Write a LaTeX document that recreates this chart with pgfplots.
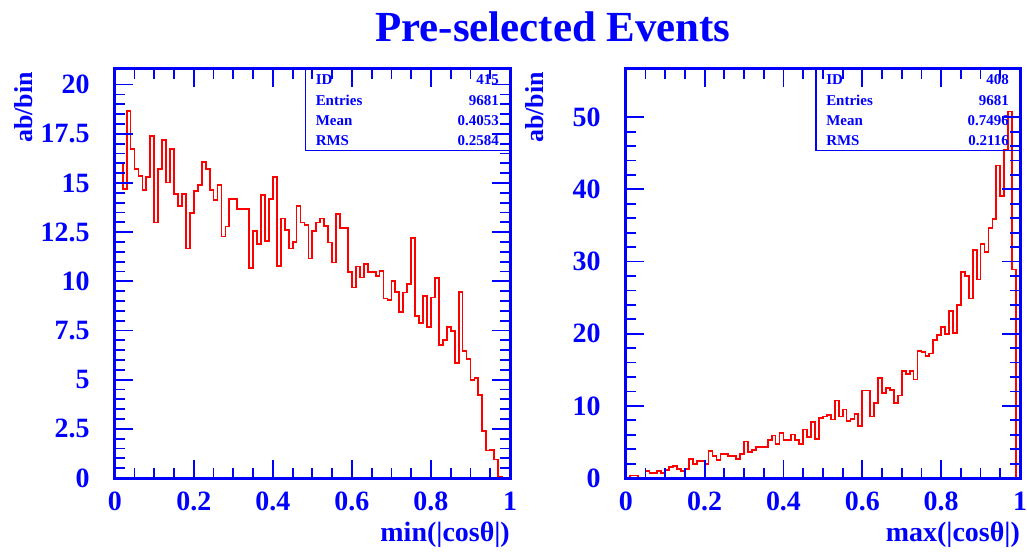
\documentclass[border=0pt]{standalone}
\usepackage{fontspec}
\setmainfont{Liberation Serif}
\usepackage{pgfplots}
\usepackage{pgfplotstable}
\pgfplotsset{compat=1.18}

\definecolor{rootblue}{RGB}{0,0,255}
\definecolor{rootred}{RGB}{255,0,0}

% min(|cos theta|): lower bin edge and content (ab/bin)
\pgfplotstableread{
x y
0.00 16.00
0.01 16.00
0.02 14.68
0.03 18.66
0.04 16.71
0.05 15.73
0.06 15.36
0.07 14.65
0.08 15.31
0.09 17.39
0.10 12.99
0.11 15.73
0.12 17.18
0.13 15.02
0.14 16.71
0.15 14.44
0.16 13.83
0.17 14.44
0.18 11.67
0.19 13.46
0.20 14.60
0.21 14.88
0.22 16.07
0.23 15.73
0.24 14.65
0.25 14.14
0.26 14.88
0.27 12.28
0.28 12.79
0.29 14.17
0.30 14.17
0.31 13.67
0.32 13.67
0.33 13.67
0.34 10.67
0.35 12.56
0.36 11.89
0.37 14.38
0.38 12.06
0.39 14.17
0.40 15.31
0.41 10.76
0.42 13.19
0.43 12.61
0.44 11.67
0.45 12.01
0.46 13.83
0.47 12.99
0.48 12.87
0.49 11.16
0.50 12.56
0.51 12.99
0.52 13.19
0.53 12.82
0.54 11.97
0.55 10.96
0.56 13.41
0.57 12.73
0.58 12.73
0.59 10.48
0.60 9.69
0.61 10.75
0.62 10.20
0.63 10.87
0.64 10.48
0.65 10.48
0.66 10.28
0.67 10.53
0.68 9.13
0.69 9.06
0.70 10.03
0.71 9.47
0.72 8.45
0.73 9.43
0.74 9.86
0.75 12.19
0.76 8.25
0.77 7.88
0.78 9.26
0.79 7.66
0.80 9.18
0.81 10.16
0.82 6.76
0.83 7.03
0.84 7.66
0.85 7.49
0.86 5.83
0.87 9.47
0.88 6.47
0.89 6.05
0.90 5.00
0.91 5.07
0.92 4.22
0.93 2.41
0.94 1.40
0.95 1.43
0.96 0.94
0.97 0.08
0.98 0.00
0.99 0.00
1.00 0.00
}\mincos

% max(|cos theta|): lower bin edge and content (ab/bin)
\pgfplotstableread{
x y
0.00 0.00
0.01 0.35
0.02 0.35
0.03 0.00
0.04 0.00
0.05 0.99
0.06 0.71
0.07 0.71
0.08 0.99
0.09 0.71
0.10 1.08
0.11 1.50
0.12 1.63
0.13 1.31
0.14 1.03
0.15 1.30
0.16 2.60
0.17 2.00
0.18 2.32
0.19 2.32
0.20 2.00
0.21 3.75
0.22 3.06
0.23 2.46
0.24 3.38
0.25 3.38
0.26 3.06
0.27 3.06
0.28 2.60
0.29 3.38
0.30 5.08
0.31 3.62
0.32 3.85
0.33 4.31
0.34 4.31
0.35 4.31
0.36 5.22
0.37 5.91
0.38 4.77
0.39 6.28
0.40 5.22
0.41 5.22
0.42 6.05
0.43 5.22
0.44 4.67
0.45 6.74
0.46 5.69
0.47 7.76
0.48 5.45
0.49 8.31
0.50 8.54
0.51 8.77
0.52 8.12
0.53 10.75
0.54 8.54
0.55 9.50
0.56 7.94
0.57 8.20
0.58 8.91
0.59 7.16
0.60 12.13
0.61 12.13
0.62 8.54
0.63 10.43
0.64 13.88
0.65 11.81
0.66 12.50
0.67 12.17
0.68 10.43
0.69 11.44
0.70 14.80
0.71 14.43
0.72 14.80
0.73 13.65
0.74 17.65
0.75 17.43
0.76 16.88
0.77 17.27
0.78 19.17
0.79 19.82
0.80 20.88
0.81 19.95
0.82 23.18
0.83 20.10
0.84 23.96
0.85 28.56
0.86 28.00
0.87 24.89
0.88 31.56
0.89 27.50
0.90 32.39
0.91 31.33
0.92 34.70
0.93 35.94
0.94 43.30
0.95 39.06
0.96 45.50
0.97 50.80
0.98 28.90
0.99 0.00
1.00 0.00
}\maxcos

\tikzset{
  statfont/.style={text=rootblue, font=\fontsize{15}{15}\selectfont\bfseries, inner sep=0pt},
}

\pgfplotsset{
  rootaxis/.style={
    scale only axis,
    width=396pt, height=410pt,
    anchor=south west,
    clip=false,
    axis on top,
    xmin=0, xmax=1,
    ymin=0,
    axis line style={rootblue, line width=3pt},
    every tick/.style={rootblue, line width=1.8pt},
    tick align=inside,
    xtick pos=both, ytick pos=both,
    major tick length=18pt,
    minor tick length=10pt,
    xtick={0,0.2,0.4,0.6,0.8,1},
    minor x tick num=3,
    minor y tick num=4,
    /pgf/number format/assume math mode=true,
    /pgf/number format/fixed,
    tick label style={text=rootblue, font=\fontsize{28}{28}\selectfont\bfseries},
    xticklabel style={anchor=north, inner sep=0pt, yshift=-14pt},
    yticklabel style={anchor=east, inner sep=0pt, xshift=-25pt},
    every axis x label/.style={at={(axis description cs:1,0)}, anchor=north east,
      inner sep=0pt, yshift=-44pt, text=rootblue, font=\fontsize{28}{28}\selectfont\bfseries},
    every axis y label/.style={at={(axis description cs:0,1)}, xshift=-82pt, yshift=-3pt,
      rotate=90, anchor=base east,
      inner sep=0pt, text=rootblue, font=\fontsize{26}{26}\selectfont\bfseries},
    ylabel={ab/bin},
  },
  histline/.style={const plot, rootred, line width=1.8pt, line join=miter},
}

\newcommand\statbox[4]{%
  \draw[rootblue, line width=1.5pt] (rel axis cs:0.483,0.80) rectangle (rel axis cs:1,1);
  \node[statfont, anchor=base west] at (rel axis cs:0.508,0.961) {ID};
  \node[statfont, anchor=base west] at (rel axis cs:0.508,0.910) {Entries};
  \node[statfont, anchor=base west] at (rel axis cs:0.508,0.861) {Mean};
  \node[statfont, anchor=base west] at (rel axis cs:0.508,0.812) {RMS};
  \node[statfont, anchor=base east] at (rel axis cs:0.972,0.961) {#1};
  \node[statfont, anchor=base east] at (rel axis cs:0.972,0.910) {#2};
  \node[statfont, anchor=base east] at (rel axis cs:0.972,0.861) {#3};
  \node[statfont, anchor=base east] at (rel axis cs:0.972,0.812) {#4};
}

\begin{document}
\begin{tikzpicture}[x=1pt, y=1pt]
  \fill[white] (0,0) rectangle (1027,554);
  \node[anchor=base, text=rootblue, font=\fontsize{43}{43}\selectfont\bfseries]
    at (554,512) {Pre-selected Events};

  \begin{axis}[rootaxis, at={(115pt,75pt)},
      ymax=20.8,
      ytick={0,2.5,5,7.5,10,12.5,15,17.5,20},
      xlabel={min(|cosθ|)}]
    \addplot[histline] table[x=x, y=y] {\mincos};
    \statbox{415}{9681}{0.4053}{0.2584}
  \end{axis}

  \begin{axis}[rootaxis, at={(627pt,75pt)}, width=395pt,
      ymax=56.7,
      ytick={0,10,20,30,40,50},
      xlabel={max(|cosθ|)}]
    \addplot[histline] table[x=x, y=y] {\maxcos};
    \statbox{408}{9681}{0.7496}{0.2116}
  \end{axis}
\end{tikzpicture}
\end{document}
